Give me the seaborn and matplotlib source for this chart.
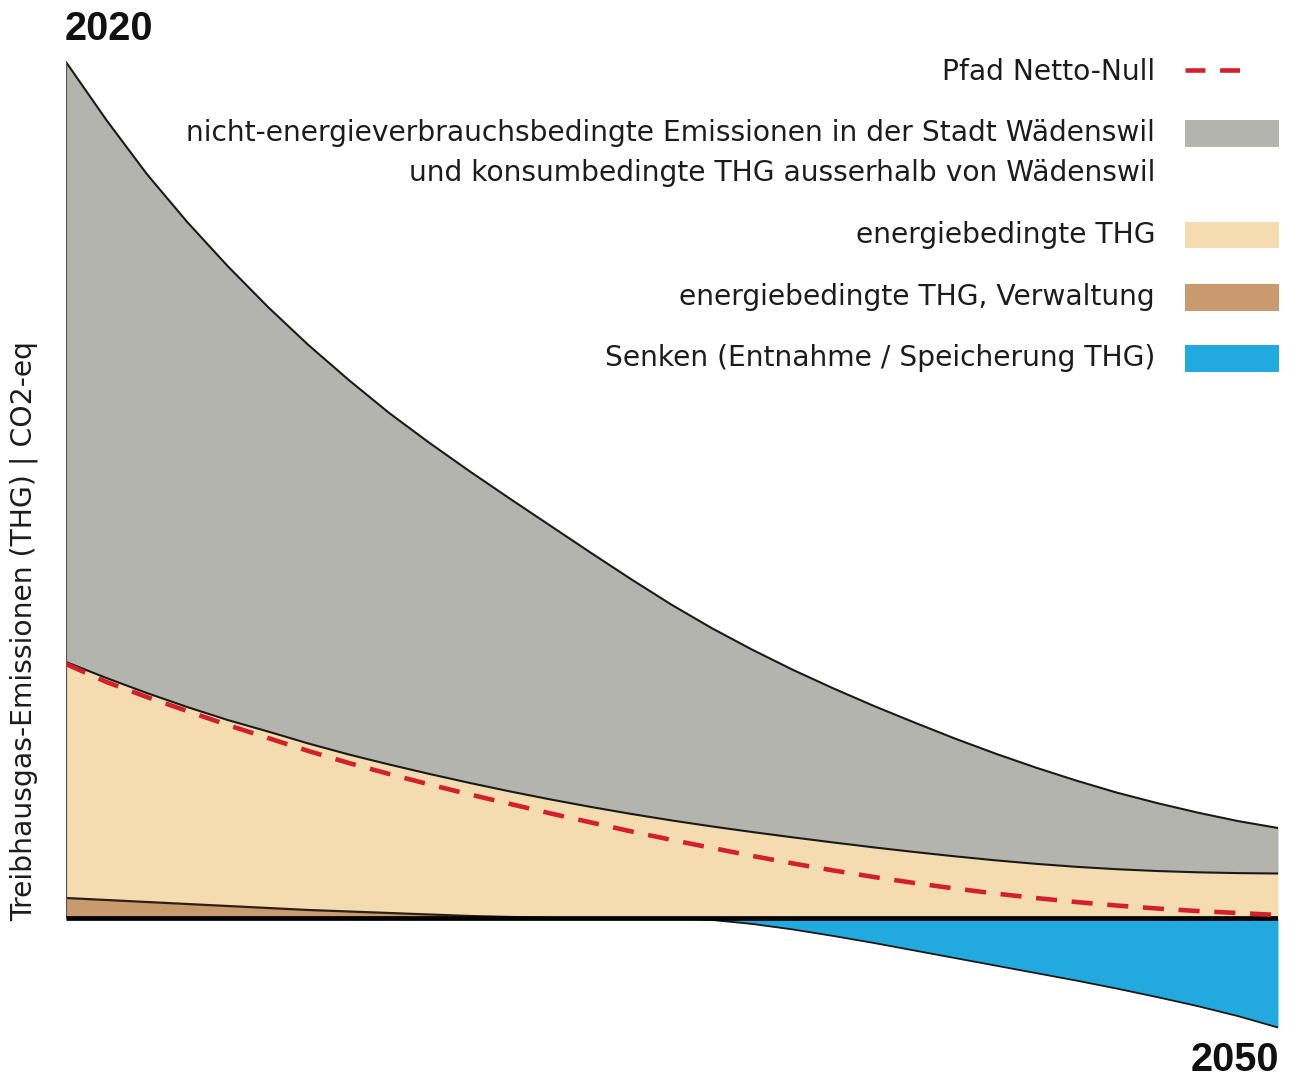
import numpy as np
import pandas as pd
import matplotlib
matplotlib.use("Agg")
import matplotlib.pyplot as plt
import seaborn as sns
from matplotlib.patches import Rectangle
from matplotlib.lines import Line2D

# ---------------- data (relative units) ----------------
years = list(range(2020, 2051))
gray_top = [856, 798, 744, 696, 652, 611, 573, 538, 505, 475, 446.5, 419, 392, 365, 338.5,
            313, 289.5, 268, 248, 229.5, 212, 195.5, 179.5, 164.5, 150.5, 137.5, 125.5, 115,
            105.5, 97, 90]
energy_top = [256, 240, 225, 211, 198, 186.5, 174.5, 163.5, 153.5, 144, 135, 126.5, 118.5,
              111, 104, 97.5, 91.5, 85.9, 80.6, 75.5, 70.6, 66, 61.7, 57.7, 54.2, 51.2, 48.8,
              47, 45.7, 44.9, 44.5]
admin_top = [20, 18, 16, 14, 12, 10, 8, 6.5, 5, 3.5, 2, 1, 0, 0, 0,
             0, 0, 0, 0, 0, 0, 0, 0, 0, 0, 0, 0, 0, 0, 0, 0]
sinks = [0, 0, 0, 0, 0, 0, 0, 0, 0, 0, 0, 0, 0, 0, 0,
         0, -2, -6, -11.5, -18, -25, -32.5, -40, -47.5, -55, -62.5, -70.5, -79, -88, -98, -109.5]
net_zero_path = [254, 236, 221, 207, 193, 180, 167, 155, 144, 133.5, 123.5, 114, 104.5, 95.5,
                 86.5, 78, 70, 62, 54.5, 47.5, 41, 35, 29.5, 24.5, 20, 16, 12.5, 9.5, 7, 5, 3]

legend_labels = [
    "Pfad Netto-Null",
    "nicht-energieverbrauchsbedingte Emissionen in der Stadt Wädenswil\nund konsumbedingte THG ausserhalb von Wädenswil",
    "energiebedingte THG",
    "energiebedingte THG, Verwaltung",
    "Senken (Entnahme / Speicherung THG)",
]
ylabel = "Treibhausgas-Emissionen (THG) | CO2-eq"
start_label, end_label = "2020", "2050"

# ---------------- style ----------------
C_GRAY = "#b4b4af"
C_BEIGE = "#f4dcb0"
C_BROWN = "#c99a6d"
C_BLUE = "#22aadf"
C_RED = "#d2202c"
C_TEXT = "#1c1c1c"

sns.set_theme(style="white")
plt.rcParams["font.family"] = ["DejaVu Sans"]

df = pd.DataFrame({"year": years, "gray": gray_top, "energy": energy_top,
                   "admin": admin_top, "sinks": sinks, "path": net_zero_path})

W, H = 1296, 1077
fig = plt.figure(figsize=(W / 100, H / 100), dpi=100)
ax = fig.add_axes([66 / W, 37 / H, 1212 / W, 1000 / H])

# fills
ax.fill_between(df["year"], df["energy"], df["gray"], color=C_GRAY, lw=0, zorder=1)
ax.fill_between(df["year"], df["admin"], df["energy"], color=C_BEIGE, lw=0, zorder=1)
ax.fill_between(df["year"], 0, df["admin"], color=C_BROWN, lw=0, zorder=1)
ax.fill_between(df["year"], df["sinks"], 0, color=C_BLUE, lw=0, zorder=1)

# boundaries
sns.lineplot(data=df, x="year", y="gray", color="#1a1a1a", lw=1.5, ax=ax, zorder=3)
sns.lineplot(data=df, x="year", y="energy", color="#1a1a1a", lw=1.5, ax=ax, zorder=3)
sns.lineplot(data=df.iloc[:13], x="year", y="admin", color="#2a2018", lw=1.6, ax=ax, zorder=3)
sns.lineplot(data=df.iloc[15:], x="year", y="sinks", color="#1a1a1a", lw=1.3, ax=ax, zorder=3)
ax.plot([years[0], years[0]], [0, gray_top[0]], color="#555555", lw=1.6, zorder=3)
ax.plot([years[0], years[-1]], [0, 0], color="black", lw=3.4, zorder=4, solid_capstyle="butt")

# net zero path
sns.lineplot(data=df, x="year", y="path", color=C_RED, lw=3.3, ax=ax, zorder=5)
ax.lines[-1].set_dashes((4.6, 3.2))
ax.set_xlim(2020, 2050)
ax.set_ylim(-122, 878)
ax.axis("off")

# ---------------- texts ----------------
def fy(py):
    return 1 - py / H

def fx(px):
    return px / W

fig.text(fx(65), fy(29), start_label, ha="left", va="center", fontsize=28.5,
         fontweight="bold", family=["Liberation Sans", "DejaVu Sans"], color="#111111")
fig.text(fx(1279), fy(1060), end_label, ha="right", va="center", fontsize=28.5,
         fontweight="bold", family=["Liberation Sans", "DejaVu Sans"], color="#111111")

renderer = fig.canvas.get_renderer()

def fit_text(t, target_px):
    bb = t.get_window_extent(renderer=renderer)
    size = t.get_fontsize()
    cur = bb.height if t.get_rotation() == 90 else bb.width
    t.set_fontsize(size * target_px / cur)

yl = fig.text(fx(24), fy(631), ylabel, rotation=90, ha="center", va="center",
              fontsize=16, color=C_TEXT)
fit_text(yl, 582)

# legend (manual layout)
tx = fx(1155)
t0 = fig.text(tx, fy(72), legend_labels[0], ha="right", va="center", fontsize=17, color=C_TEXT)
line1, line2 = legend_labels[1].split("\n")
t1 = fig.text(tx, fy(133), line1, ha="right", va="center", fontsize=17, color=C_TEXT)
fit_text(t1, 972)
fs = t1.get_fontsize()
t0.set_fontsize(fs)
fig.text(tx, fy(173), line2, ha="right", va="center", fontsize=fs, color=C_TEXT)
fig.text(tx, fy(235), legend_labels[2], ha="right", va="center", fontsize=fs, color=C_TEXT)
fig.text(tx, fy(297), legend_labels[3], ha="right", va="center", fontsize=fs, color=C_TEXT)
fig.text(tx, fy(358), legend_labels[4], ha="right", va="center", fontsize=fs, color=C_TEXT)

for (top, bot, col) in [(120, 147, C_GRAY), (222, 248, C_BEIGE), (284, 311, C_BROWN), (345, 372, C_BLUE)]:
    fig.patches.append(Rectangle((fx(1185), fy(bot)), fx(1279) - fx(1185), fy(top) - fy(bot),
                                 transform=fig.transFigure, color=col, lw=0))
ll = Line2D([fx(1185), fx(1241)], [fy(70), fy(70)], transform=fig.transFigure,
            color=C_RED, lw=3.3, solid_capstyle="butt", dash_capstyle="butt")
ll.set_dashes((4.35, 3.2))
fig.lines.append(ll)

fig.savefig("out.png", dpi=100)
